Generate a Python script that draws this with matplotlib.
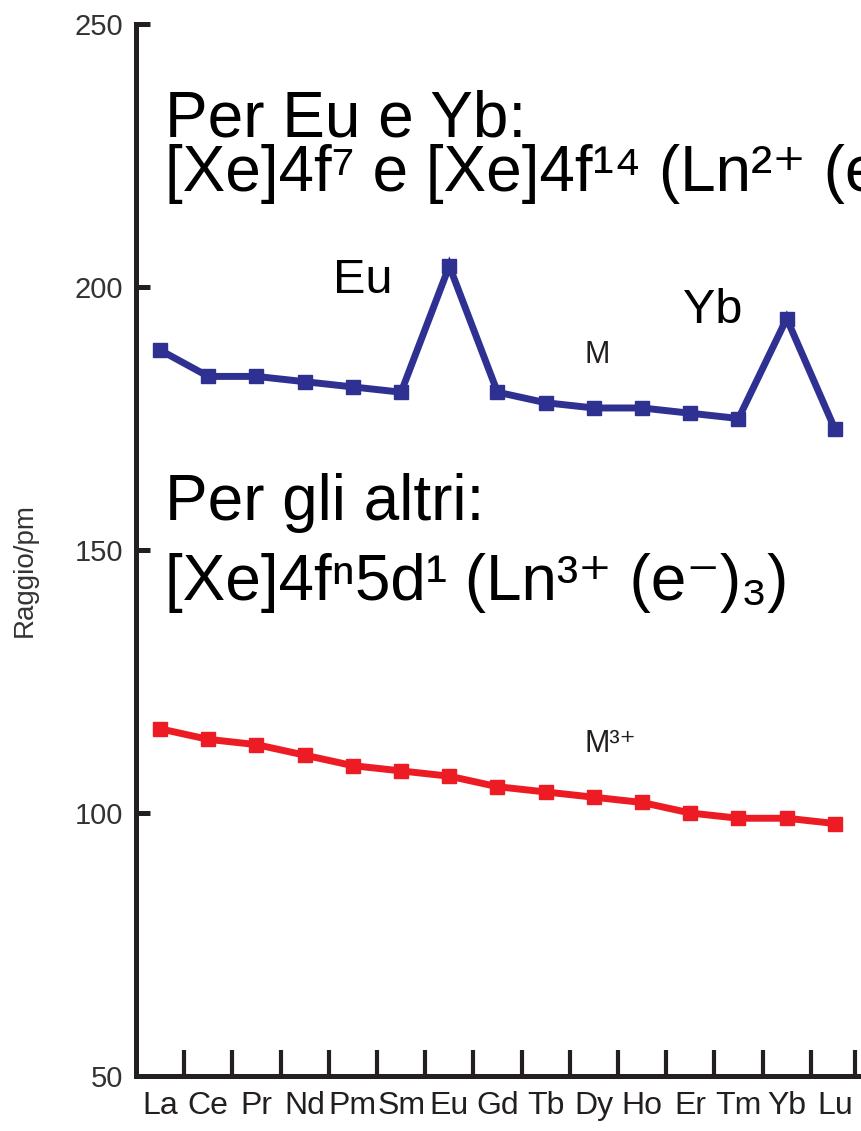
import matplotlib
matplotlib.use("Agg")
import matplotlib.pyplot as plt
from matplotlib import font_manager
from matplotlib.ticker import FixedLocator

names = {f.name for f in font_manager.fontManager.ttflist}
NARROW = "Liberation Sans Narrow" if "Liberation Sans Narrow" in names else "Liberation Sans"
REG = "Liberation Sans"
plt.rcParams['font.family'] = [REG, 'DejaVu Sans']

# ---- data ----
elements = ["La", "Ce", "Pr", "Nd", "Pm", "Sm", "Eu", "Gd", "Tb", "Dy", "Ho", "Er", "Tm", "Yb", "Lu"]
radius_M = [188, 183, 183, 182, 181, 180, 204, 180, 178, 177, 177, 176, 175, 194, 173]
radius_M3 = [116, 114, 113, 111, 109, 108, 107, 105, 104, 103, 102, 100, 99, 99, 98]
y_ticks = [50, 100, 150, 200, 250]

INK = "#231F20"
BLUE = "#2E3192"
RED = "#ED1C24"

W, H = 862, 1131
fig = plt.figure(figsize=(W / 100, H / 100), dpi=100)
ax_l, ax_r, ax_t, ax_b = 136, 859, 24, 1076
ax = fig.add_axes([ax_l / W, 1 - ax_b / H, (ax_r - ax_l) / W, (ax_b - ax_t) / H])

x = list(range(len(elements)))
ax.plot(x, radius_M, color=BLUE, lw=5, marker='s', ms=10.5, solid_joinstyle='miter', zorder=3, clip_on=False)
ax.plot(x, radius_M3, color=RED, lw=5, marker='s', ms=10.5, solid_joinstyle='miter', zorder=3, clip_on=False)

ax.set_xlim(-0.5, len(elements) - 0.5)
ax.set_ylim(50, 250)

for s in ("top", "right"):
    ax.spines[s].set_visible(False)
for s in ("left", "bottom"):
    ax.spines[s].set_linewidth(3.6)
    ax.spines[s].set_color(INK)
    ax.spines[s].set_capstyle('projecting')

ax.set_xticks(x)
ax.set_xticklabels(elements, fontfamily=[NARROW, 'DejaVu Sans'], fontsize=23, color=INK)
ax.tick_params(axis='x', which='major', length=0, pad=11)
ax.xaxis.set_minor_locator(FixedLocator([i + 0.5 for i in range(len(elements) - 1)] + [len(elements) - 0.58]))
ax.tick_params(axis='x', which='minor', direction='in', length=19, width=3, color=INK)

ax.set_yticks(y_ticks)
ax.set_yticklabels([str(v) for v in y_ticks], fontsize=21, color="#333333")
ax.tick_params(axis='y', direction='in', length=10, width=3.6, color=INK, pad=9)
ax.set_ylabel("Raggio/pm", fontsize=20, color="#333333", labelpad=0)
ax.yaxis.set_label_coords(-(ax_l - 38) / (ax_r - ax_l), (1 - (570 - ax_t) / (ax_b - ax_t)))


def ftext(px, py, s, **kw):
    fig.text(px / W, 1 - py / H, s, va='baseline', ha='left', **kw)


BIG = 46
ftext(165, 191, "Per Eu e Yb:\n[Xe]4f\u2077 e [Xe]4f\u00b9\u2074 (Ln\u00b2\u207a (e\u207b)\u2082)",
      fontsize=BIG, color="black", linespacing=0.89)
ftext(165, 600, "Per gli altri:\n[Xe]4f\u207f5d\u00b9 (Ln\u00b3\u207a (e\u207b)\u2083)",
      fontsize=BIG, color="black", linespacing=1.43)
ftext(333, 293, "Eu", fontsize=35, color="black")
ftext(683, 323, "Yb", fontsize=35, color="black")
ftext(585, 363, "M", fontsize=22, color=INK, fontfamily=[NARROW, 'DejaVu Sans'])
ftext(585, 752, "M\u00b3\u207a", fontsize=22, color=INK, fontfamily=[NARROW, 'DejaVu Sans'])

fig.savefig("out.png", dpi=100)
